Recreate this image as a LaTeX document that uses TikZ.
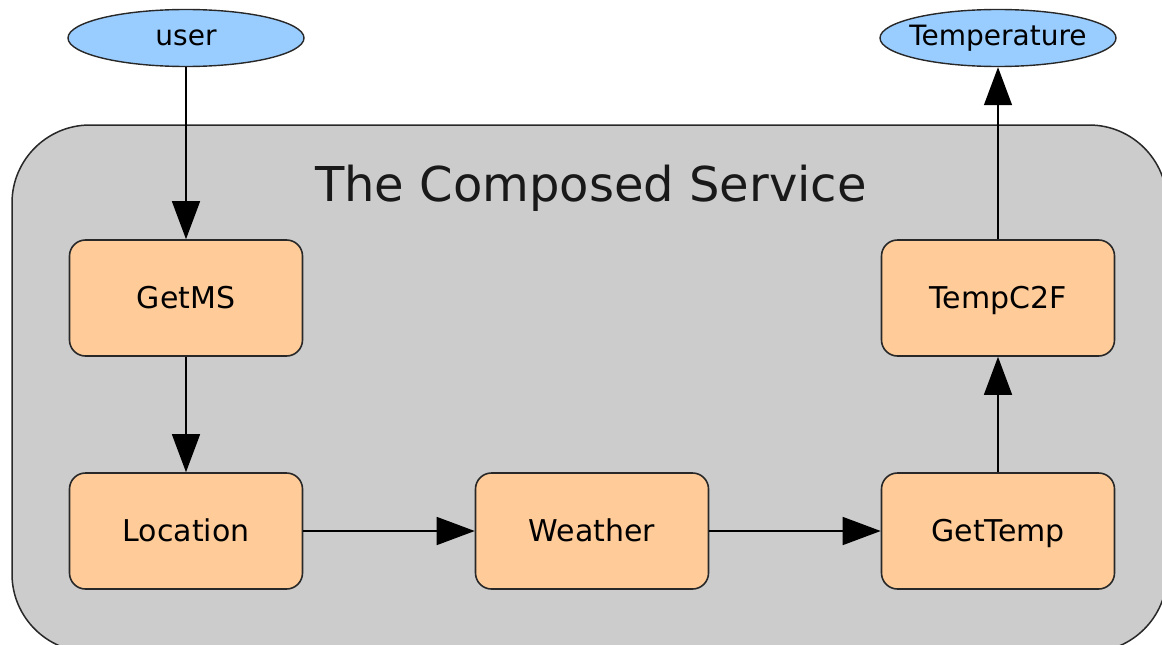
\documentclass[tikz,border=0pt]{standalone}
\usepackage{fontspec}
\setmainfont{DejaVu Sans}
\usetikzlibrary{shapes.geometric,arrows.meta}
\definecolor{peach}{RGB}{255,204,153}
\definecolor{skyblue}{RGB}{153,204,255}
\definecolor{panelgray}{RGB}{204,204,204}
\definecolor{edgegray}{RGB}{40,40,40}
\begin{document}
\begin{tikzpicture}[x=1pt,y=-1pt,
  svc/.style={draw=edgegray, line width=1.6pt, fill=peach, rounded corners=16pt,
    minimum width=233pt, minimum height=116pt, inner sep=0pt,
    text height=24pt, text depth=4pt,
    font=\fontsize{30}{36}\selectfont},
  io/.style={ellipse, draw=edgegray, line width=1.4pt, fill=skyblue,
    minimum width=236pt, minimum height=57pt, inner ysep=0pt, inner xsep=-6pt,
    font=\fontsize{28}{33}\selectfont},
  flow/.style={line width=1.5pt, -{Triangle[length=38pt,width=28pt]}},
  panel/.style={draw=edgegray, line width=1.5pt, fill=panelgray, rounded corners=78pt},
]
\useasboundingbox (0,0) rectangle (1162,645);

% cluster background of the composed service
\begin{scope}
  \clip (0,0) rectangle (1162,645);
  \draw[panel] (12,125) rectangle (1167,652);
\end{scope}
\node[font=\fontsize{48}{58}\selectfont, text=black!90] (title) at (591,188) {The Composed Service};

% inputs and outputs
\node[io] (user) at (186,38) {user};
\node[io] (temperature) at (998,38) {Temperature};

% component services
\node[svc] (getms)    at (186,298) {GetMS};
\node[svc] (location) at (186,531) {Location};
\node[svc] (weather)  at (592,531) {Weather};
\node[svc] (gettemp)  at (998,531) {GetTemp};
\node[svc] (tempc2f)  at (998,298) {TempC2F};

% data flow
\draw[flow] (user) -- (getms);
\draw[flow] (getms) -- (location);
\draw[flow] (location) -- (weather);
\draw[flow] (weather) -- (gettemp);
\draw[flow] (gettemp) -- (tempc2f);
\draw[flow] (tempc2f) -- (temperature);
\end{tikzpicture}
\end{document}
